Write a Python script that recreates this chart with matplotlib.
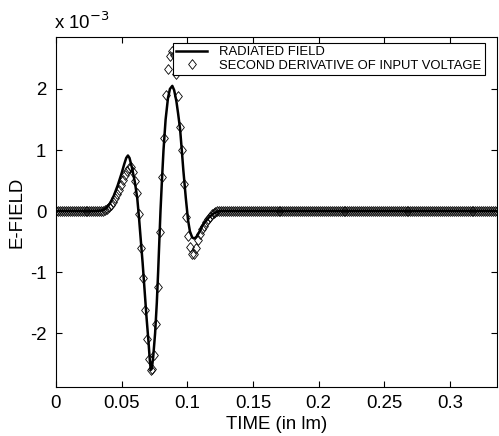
import matplotlib
matplotlib.use('Agg')
import matplotlib.pyplot as plt
import numpy as np

plt.rcParams['font.family'] = ['Liberation Sans', 'DejaVu Sans']
plt.rcParams['axes.unicode_minus'] = False

# radiated field (units of 1e-3), knots
t_field = [0.0, 0.030, 0.035, 0.038, 0.041, 0.044, 0.047, 0.050, 0.052, 0.0535,
           0.0548, 0.056, 0.058, 0.0602, 0.0619, 0.0632, 0.0645, 0.066, 0.0675, 0.069,
           0.0705, 0.0715, 0.0722, 0.073, 0.074, 0.0755, 0.0768, 0.0778, 0.0787, 0.0796,
           0.0807, 0.0819, 0.0835, 0.0853, 0.0868, 0.0886, 0.090, 0.0917, 0.093, 0.0945,
           0.096, 0.097, 0.0989, 0.1006, 0.102, 0.1037, 0.1053, 0.107, 0.109, 0.112,
           0.1166, 0.120, 0.124, 0.336]
e_field = [0.0, 0.0, 0.01, 0.04, 0.12, 0.25, 0.42, 0.62, 0.77, 0.87,
           0.91, 0.87, 0.70, 0.46, 0.21, -0.10, -0.45, -0.85, -1.30, -1.75,
           -2.15, -2.45, -2.60, -2.58, -2.40, -2.00, -1.50, -1.00, -0.50, 0.0,
           0.50, 1.00, 1.50, 1.85, 2.00, 2.05, 1.98, 1.80, 1.60, 1.35,
           0.95, 0.67, 0.21, -0.15, -0.33, -0.43, -0.45, -0.42, -0.35, -0.22,
           -0.10, -0.04, 0.0, 0.0]

# second derivative of input voltage, sampled every 0.0015
dt = 0.0015
n_before = 23          # samples at zero before the pulse
n_total = 225
pulse = [0.0, 0.0, 0.01, 0.03, 0.06, 0.10, 0.15, 0.21, 0.28, 0.35,
         0.43, 0.51, 0.59, 0.66, 0.71, 0.72, 0.64, 0.50, 0.30, -0.05,
         -0.60, -1.10, -1.62, -2.10, -2.42, -2.60, -2.58, -2.35, -1.85, -1.25,
         -0.35, 0.55, 1.20, 1.90, 2.32, 2.54, 2.62, 2.55, 2.25, 1.88,
         1.38, 1.00, 0.45, -0.10, -0.40, -0.58, -0.70, -0.70, -0.60, -0.48,
         -0.38, -0.30, -0.24, -0.18, -0.13, -0.09, -0.05, -0.03, -0.01, 0.0,
         0.0]
d2v = [0.0] * n_before + pulse + [0.0] * (n_total - n_before - len(pulse))
t_d2v = np.arange(n_total) * dt

xticks = [0, 0.05, 0.1, 0.15, 0.2, 0.25, 0.3]
yticks = [-2, -1, 0, 1, 2]

fs = 13.4
fig = plt.figure(figsize=(4.99, 4.36), dpi=100)
ax = fig.add_axes([0.1122, 0.1124, 0.884, 0.8027])

diamond = [(0, 1), (0.8, 0), (0, -1), (-0.8, 0), (0, 1)]
ax.plot(t_field, e_field, 'k-', lw=1.8, label='RADIATED FIELD', zorder=3)
ax.plot(t_d2v, d2v, ls='none', marker=diamond, ms=7, mfc='none', mec='k', mew=0.6,
        label='SECOND DERIVATIVE OF INPUT VOLTAGE', zorder=2)

ax.set_xlim(0, 0.336)
ax.set_ylim(-2.88, 2.85)
ax.set_xticks(xticks)
ax.set_xticklabels(['0', '0.05', '0.1', '0.15', '0.2', '0.25', '0.3'])
ax.set_yticks(yticks)
ax.tick_params(direction='in', top=True, right=True, length=4, labelsize=fs, width=0.8)
ax.tick_params(axis='y', pad=7)
ax.tick_params(axis='x', pad=6)
ax.set_xlabel('TIME (in lm)', fontsize=fs, labelpad=3)
ax.set_ylabel('E-FIELD', fontsize=fs, labelpad=3)
fig.text(0.109, 0.925, 'x 10$^{-3}$', fontsize=fs, ha='left', va='bottom')

leg = ax.legend(loc='upper right', bbox_to_anchor=(0.9715, 0.983), fontsize=9.4,
                frameon=True, fancybox=False, edgecolor='k', framealpha=1,
                borderpad=0.25, labelspacing=0.1, handlelength=2.4, handletextpad=0.9,
                borderaxespad=0)
leg.get_frame().set_linewidth(0.8)

fig.savefig('out.png', dpi=100)
